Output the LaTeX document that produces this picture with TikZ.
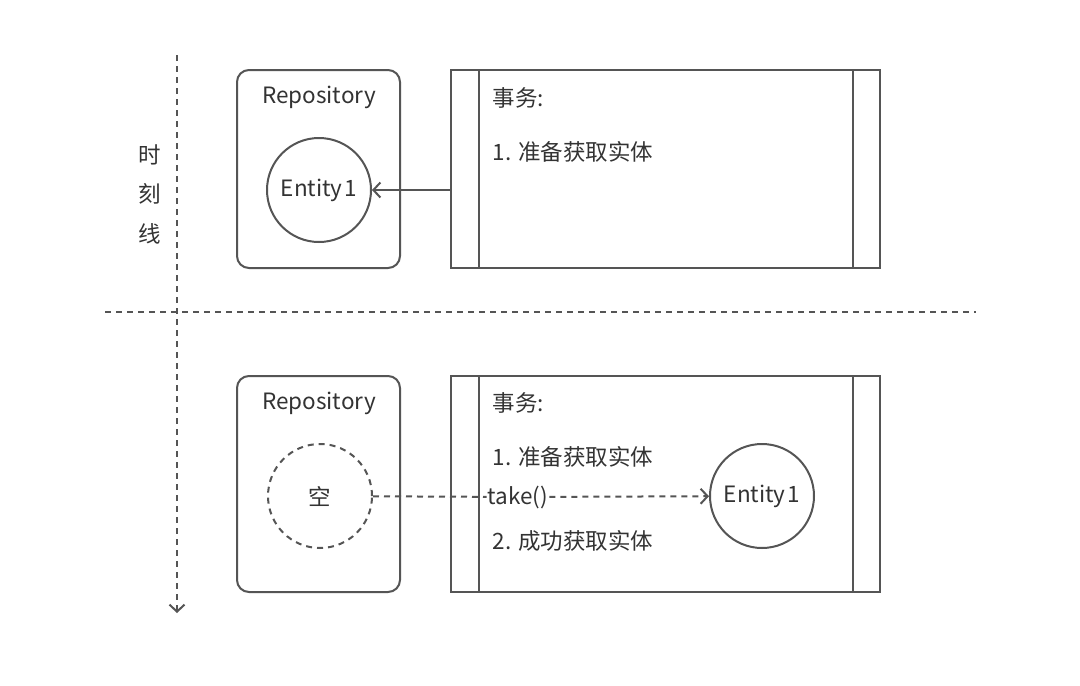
\documentclass[tikz,border=0pt]{standalone}
\usepackage{fontspec}
\setmainfont{Noto Sans CJK SC}
\usetikzlibrary{arrows.meta}
\definecolor{ln}{HTML}{555555}
\definecolor{tx}{HTML}{333333}
\begin{document}
\begin{tikzpicture}[x=1pt,y=-1pt,
  every node/.style={text=tx,font=\fontsize{22.5}{26}\selectfont},
  box/.style={draw=ln,line width=2pt},
  repo/.style={box,rounded corners=12pt},
  ent/.style={draw=ln,line width=2pt,circle,minimum size=104pt,inner sep=0pt},
  tip/.style={-{Straight Barb[length=7pt,width=15pt,line width=2pt]}},
  dsh/.style={dash pattern=on 6pt off 5pt}]
\useasboundingbox (0,0) rectangle (1080,686);
\fill[white] (0,0) rectangle (1080,686);
% timeline
\coordinate (ta) at (177,55);
\coordinate (tb) at (177,613);
\draw[ln,line width=2pt,dash pattern=on 6pt off 5pt,tip] (ta) -- (tb);
\coordinate (ha) at (105,312);
\coordinate (hb) at (976,312);
\draw[ln,line width=2pt,dsh] (ha) -- (hb);
\node (t1) at (150,155) {时};
\node (t2) at (150,194) {刻};
\node (t3) at (150,234) {线};
% top
\draw[repo] (237,70) rectangle (400,268);
\node (r1) at (319,97) {Repository};
\node[ent] (e1) at (319,190) {Entity\kern2pt 1};
\draw[box] (451,70) rectangle (880,268);
\draw[box] (479,70) -- (479,268);
\draw[box] (853,70) -- (853,268);
\coordinate (s1) at (451,190);
\node[anchor=west] (a1) at (489,98) {事务:};
\node[anchor=west] (b1) at (489,152) {1.\hspace{7pt}准备获取实体};
\draw[ln,line width=2pt,tip] (s1) -- (e1);
% bottom
\draw[repo] (237,376) rectangle (400,592);
\node (r2) at (319,403) {Repository};
\node[ent,dsh] (e0) at (320,496) {空};
\draw[box] (451,376) rectangle (880,592);
\draw[box] (479,376) -- (479,592);
\draw[box] (853,376) -- (853,592);
\node[anchor=west] (a2) at (489,403) {事务:};
\node[anchor=west] (b2) at (489,457) {1.\hspace{7pt}准备获取实体};
\node[anchor=west] (c2) at (489,541) {2.\hspace{7pt}成功获取实体};
\node[ent] (e2) at (762,496) {Entity\kern2pt 1};
\node[fill=white,inner sep=1pt] (tk) at (518,497) {take()};
\draw[ln,line width=2pt,dsh] (e0) -- (tk);
\draw[ln,line width=2pt,dsh,tip] (tk) -- (e2);
\end{tikzpicture}
\end{document}
